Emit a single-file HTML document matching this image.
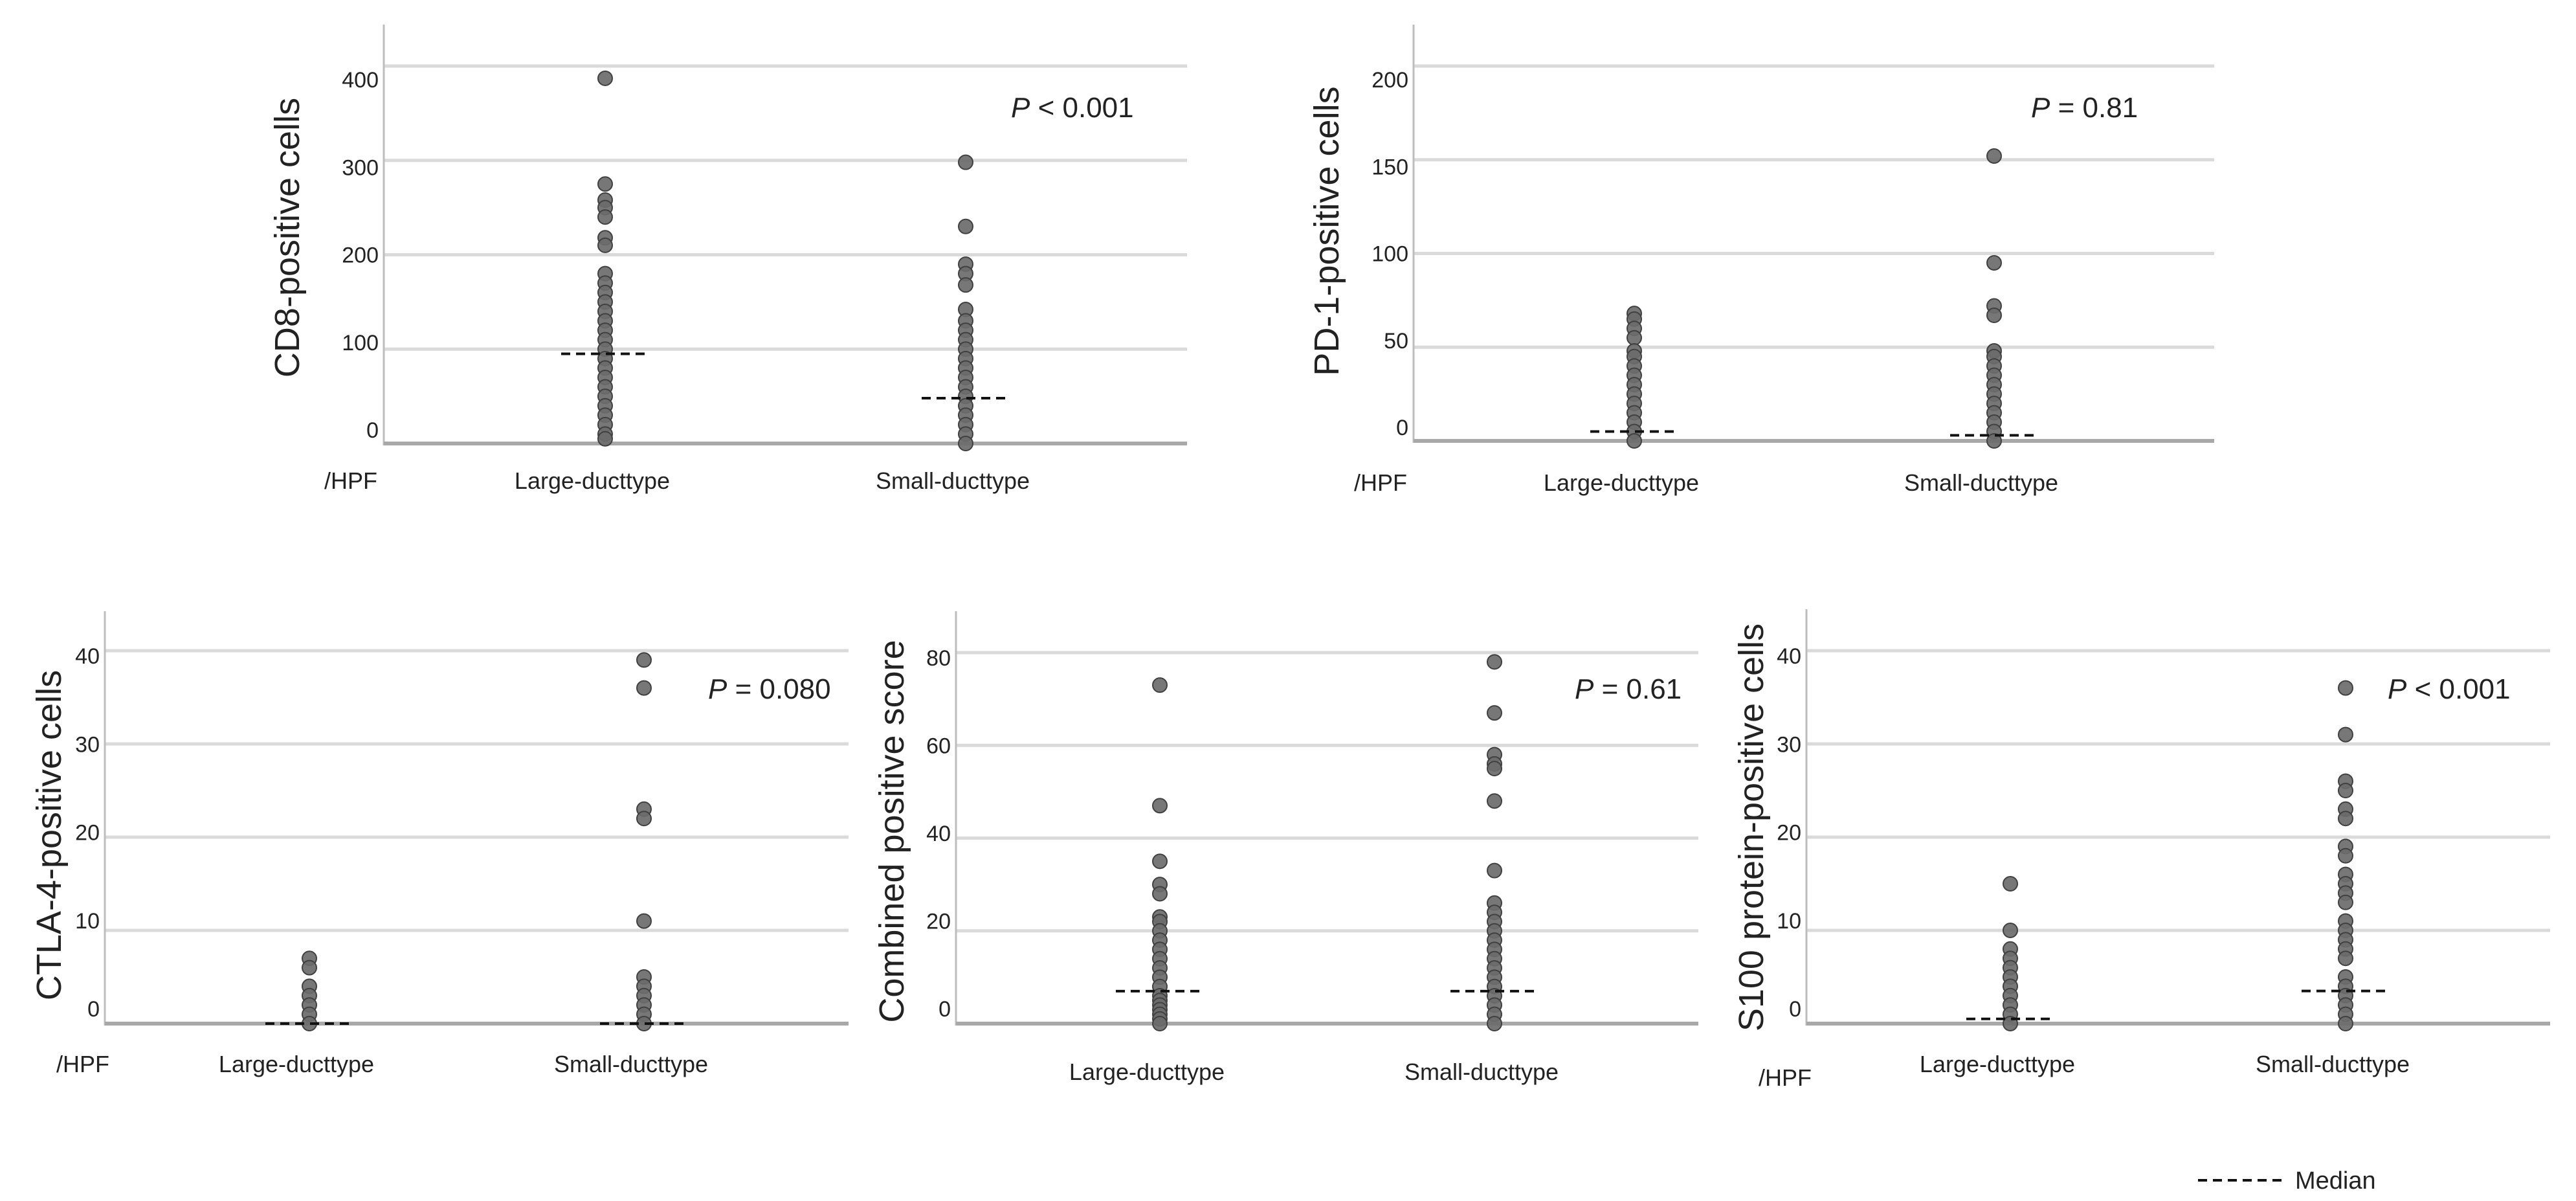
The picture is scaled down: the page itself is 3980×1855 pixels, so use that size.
<!DOCTYPE html>
<html><head><meta charset="utf-8"><style>
html,body{margin:0;padding:0;background:#fff;}
svg{display:block;font-family:"Liberation Sans",Arial,sans-serif;}
</style></head><body>
<svg id="fig" width="3980" height="1855" viewBox="0 0 3980 1855" xmlns="http://www.w3.org/2000/svg"></svg>
<script>
const categories = ["Large-ducttype", "Small-ducttype"];

const cd8Large = [387,275,258,250,240,218,210,180,170,160,150,140,130,120,110,100,90,80,70,60,50,40,30,20,10,5];
const cd8Small = [298,230,190,180,168,142,130,120,110,100,90,80,70,60,50,40,30,20,10,0];
const cd8Medians = [95, 48];
const cd8Ticks = [0,100,200,300,400];

const pd1Large = [68,65,60,55,48,45,40,35,30,25,20,15,10,5,0];
const pd1Small = [152,95,72,67,48,45,40,35,30,25,20,15,10,5,0];
const pd1Medians = [5, 3];
const pd1Ticks = [0,50,100,150,200];

const ctlaLarge = [7,6,4,3,2,1,0];
const ctlaSmall = [39,36,23,22,11,5,4,3,2,1,0];
const ctlaMedians = [0, 0];
const ctlaTicks = [0,10,20,30,40];

const cpsLarge = [73,47,35,30,28,23,22,20,18,16,14,12,10,8,6,5,4,3,2,1,0];
const cpsSmall = [78,67,58,56,55,48,33,26,24,22,20,18,16,14,12,10,8,6,4,2,0];
const cpsMedians = [7, 7];
const cpsTicks = [0,20,40,60,80];

const s100Large = [15,10,8,7,6,5,4,3,2,1,0];
const s100Small = [36,31,26,25,23,22,19,18,16,15,14,13,11,10,9,8,7,5,4,3,2,1,0];
const s100Medians = [0.5, 3.5];
const s100Ticks = [0,10,20,30,40];

const pLabels = ["< 0.001", "= 0.81", "= 0.080", "= 0.61", "< 0.001"];

const NS = "http://www.w3.org/2000/svg";
const svg = document.getElementById("fig");
function mk(tag, attrs, parent){
  const e = document.createElementNS(NS, tag);
  for (const k in attrs) e.setAttribute(k, attrs[k]);
  (parent||svg).appendChild(e);
  return e;
}

function panel(cfg){
  const g = mk("g", {});
  
  
  const yScale = v => cfg.y0 - (v / cfg.unit) * cfg.unitPx;
  const vmax = cfg.ticks[cfg.ticks.length-1];
  // gridlines
  cfg.ticks.forEach(t => {
    if (t === 0) return;
    const l = mk("line", {x1:cfg.ax, x2:cfg.xEnd, y1:yScale(t), y2:yScale(t), stroke:"#dadada", "stroke-width":5}, g);
    
    
  });
  // y axis line
  const ya = mk("line", {x1:cfg.ax, x2:cfg.ax, y1:cfg.top, y2:cfg.y0+3, stroke:"#bdbdbd", "stroke-width":3}, g);
  
  
  // baseline
  const bl = mk("line", {x1:cfg.ax, x2:cfg.xEnd, y1:cfg.y0, y2:cfg.y0, stroke:"#a8a8a8", "stroke-width":6}, g);
  
  
  // tick labels
  cfg.ticks.forEach(t => {
    const ly = yScale(t) - cfg.lo + (cfg.lo + cfg.hi) * (t / vmax);
    const tx = mk("text", {x:cfg.ax-8, y:ly+12, "text-anchor":"end", "font-size":34, fill:"#222"}, g);
    
    
    tx.textContent = t;
  });
  // y title
  const tt = mk("text", {x:0, y:0, "text-anchor":"middle", "font-size":54, fill:"#222",
    transform:`translate(${cfg.titleX},${cfg.titleY}) rotate(-90)`}, g);
  
  
  tt.textContent = cfg.title;
  // points & medians
  [cfg.large, cfg.small].forEach((arr, i) => {
    const cx = cfg.cats[i];
    arr.forEach(v => {
      const c = mk("circle", {cx:cx, cy:yScale(v), r:11, fill:"#6b6b6b", stroke:"#404040", "stroke-width":2, "fill-opacity":0.92}, g);
      
      
    });
    const my = yScale(cfg.medians[i]);
    const md = mk("line", {x1:cx-68, x2:cx+68, y1:my, y2:my, stroke:"#111", "stroke-width":4, "stroke-dasharray":"14 9"}, g);
    
    
    const cl = mk("text", {x:cx - 20, y:cfg.catY+13, "text-anchor":"middle", "font-size":36, fill:"#222"}, g);
    
    
    cl.textContent = categories[i];
  });
  if (cfg.hpfX){
    const h = mk("text", {x:cfg.hpfX, y:cfg.hpfY+13, "text-anchor":"middle", "font-size":36, fill:"#222"}, g);
    
    
    h.textContent = "/HPF";
  }
  const p = mk("text", {x:cfg.pX, y:cfg.pY+15, "text-anchor":"start", "font-size":44, fill:"#222"}, g);
  
  
  const pi = mk("tspan", {"font-style":"italic"}, p); pi.textContent = "P";
  const pr = mk("tspan", {}, p); pr.textContent = " " + cfg.p;
}

panel({name:"cd8-panel", ax:593, xEnd:1834, top:38, y0:685, unit:100, unitPx:145.75, ticks:cd8Ticks,
  large:cd8Large, small:cd8Small, medians:cd8Medians, cats:[935,1492], catY:742,
  title:"CD8-positive  cells", titleX:462, titleY:367, hpfX:542, hpfY:742, pX:1562, pY:166, p:pLabels[0], lo:21, hi:21});
panel({name:"pd1-panel", ax:2184, xEnd:3421, top:38, y0:681, unit:50, unitPx:144.75, ticks:pd1Ticks,
  large:pd1Large, small:pd1Small, medians:pd1Medians, cats:[2525,3081], catY:745,
  title:"PD-1-positive  cells", titleX:2068, titleY:357, hpfX:2133, hpfY:745, pX:3138, pY:166, p:pLabels[1], lo:21, hi:21});
panel({name:"ctla4-panel", ax:162, xEnd:1311, top:944, y0:1581, unit:10, unitPx:144, ticks:ctlaTicks,
  large:ctlaLarge, small:ctlaSmall, medians:ctlaMedians, cats:[478,995], catY:1643,
  title:"CTLA-4-positive  cells", titleX:94, titleY:1290, hpfX:128, hpfY:1643, pX:1094, pY:1064, p:pLabels[2], lo:23, hi:8});
panel({name:"cps-panel", ax:1477, xEnd:2624, top:944, y0:1581, unit:20, unitPx:143.25, ticks:cpsTicks,
  large:cpsLarge, small:cpsSmall, medians:cpsMedians, cats:[1792,2309], catY:1655,
  title:"Combined  positive  score", titleX:1396, titleY:1284, hpfX:0, pX:2433, pY:1064, p:pLabels[3], lo:23, hi:8});
panel({name:"s100-panel", ax:2791, xEnd:3940, top:941, y0:1581, unit:10, unitPx:144, ticks:s100Ticks,
  large:s100Large, small:s100Small, medians:s100Medians, cats:[3106,3624], catY:1643,
  title:"S100 protein-positive  cells", titleX:2724, titleY:1278, hpfX:2758, hpfY:1664, pX:3689, pY:1064, p:pLabels[4], lo:23, hi:8});

// legend
const lg = mk("g", {});


const ll = mk("line", {x1:3396, x2:3530, y1:1823, y2:1823, stroke:"#111", "stroke-width":4, "stroke-dasharray":"14 9"}, lg);


const lt = mk("text", {x:3546, y:1836, "font-size":38, fill:"#222"}, lg);


lt.textContent = "Median";
</script>
</body></html>
